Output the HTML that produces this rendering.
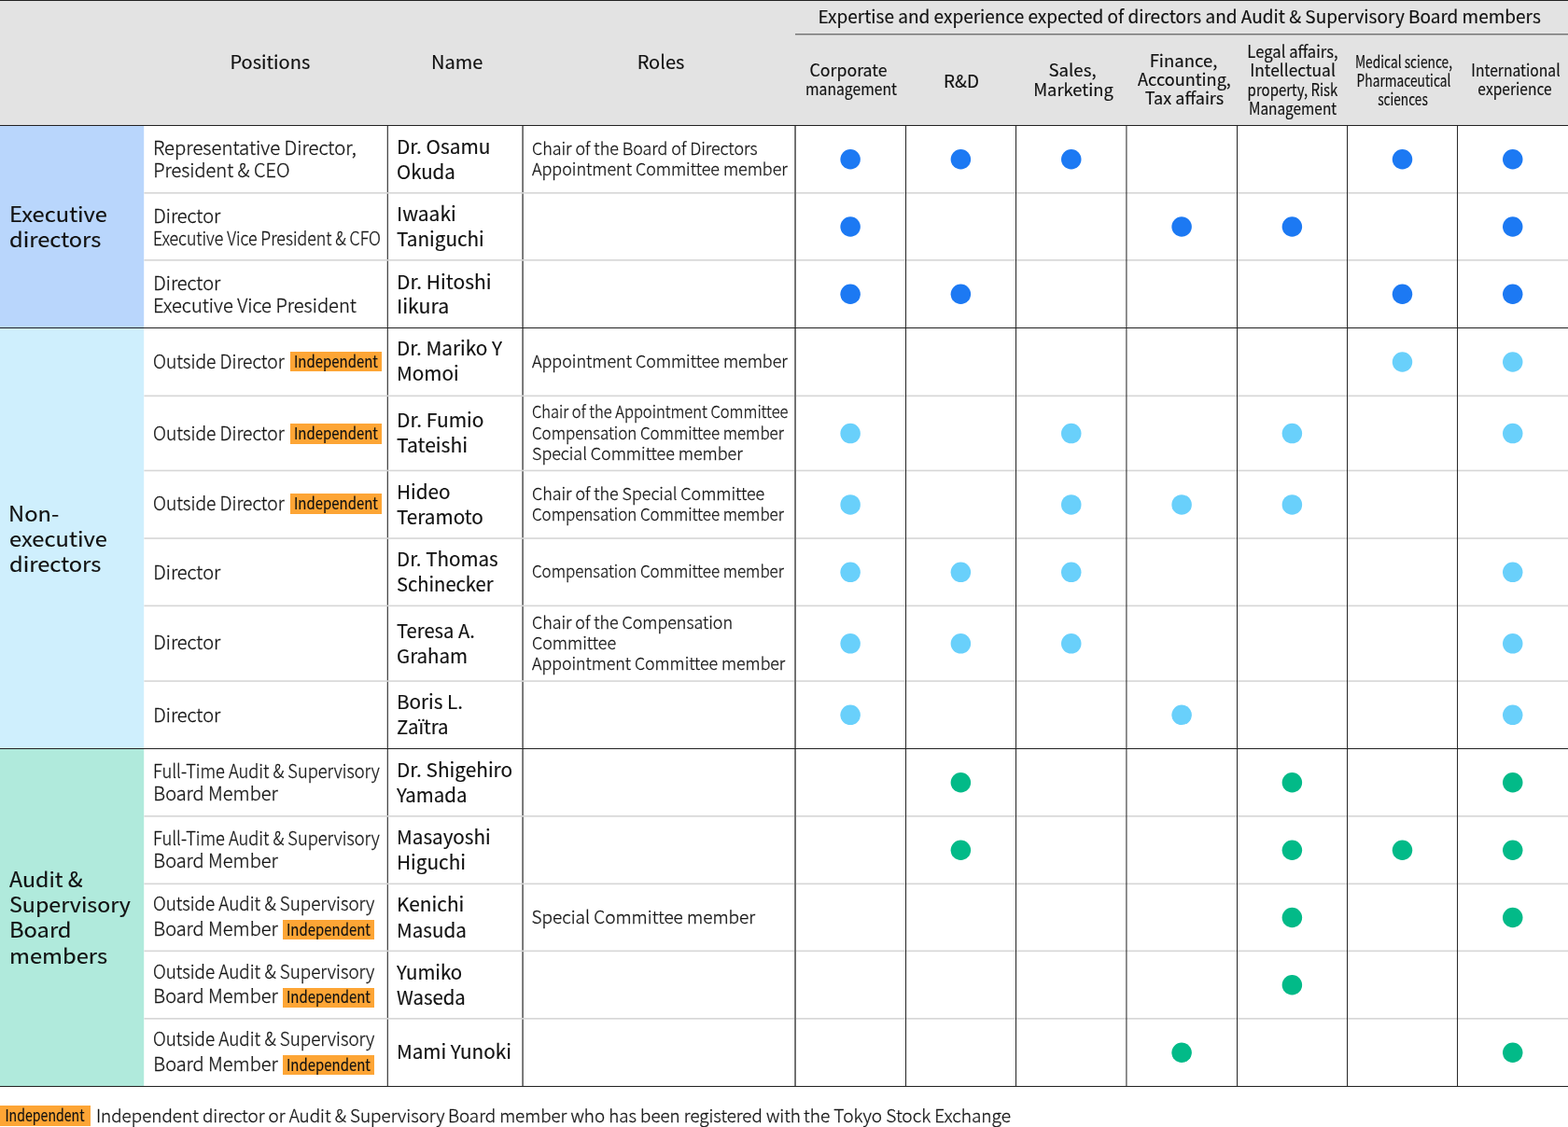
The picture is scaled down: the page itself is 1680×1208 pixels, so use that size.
<!DOCTYPE html>
<html lang="en"><head><meta charset="utf-8"><title>Skills matrix</title>
<style>
html,body{margin:0;padding:0;background:#fff}
body{width:1680px;height:1208px;position:relative;overflow:hidden;font-family:"Noto Sans CJK JP","Liberation Sans",sans-serif}
.t{position:absolute;white-space:nowrap;line-height:30px;height:30px;-webkit-text-stroke:0.3px currentColor}
.r{position:absolute}
.d{position:absolute;width:21.5px;height:21.5px;border-radius:50%}
</style></head><body>
<div class="r" style="left:0.00px;top:0.00px;width:1680.00px;height:134.50px;background:#e3e3e3;"></div>
<svg class="r" style="left:0;top:0" width="1680" height="1208" viewBox="0 0 1680 1208"><rect x="0.00" y="135.00" width="154.20" height="216.00" fill="#b9d6fc"/><rect x="0.00" y="352.00" width="154.20" height="450.00" fill="#cfeffd"/><rect x="0.00" y="803.00" width="154.20" height="361.00" fill="#b0eadc"/><rect x="414.70" y="135.00" width="1.30" height="1029.00" fill="#484848"/><rect x="559.20" y="135.00" width="1.80" height="1029.00" fill="#6c6c6c"/><rect x="154.40" y="206.05" width="1525.60" height="1.60" fill="#d6d6d6"/><rect x="154.40" y="278.05" width="1525.60" height="1.60" fill="#d6d6d6"/><rect x="154.40" y="423.55" width="1525.60" height="1.60" fill="#d6d6d6"/><rect x="154.40" y="503.65" width="1525.60" height="1.60" fill="#d6d6d6"/><rect x="154.40" y="576.25" width="1525.60" height="1.60" fill="#d6d6d6"/><rect x="154.40" y="648.55" width="1525.60" height="1.60" fill="#d6d6d6"/><rect x="154.40" y="729.25" width="1525.60" height="1.60" fill="#d6d6d6"/><rect x="154.40" y="874.05" width="1525.60" height="1.60" fill="#d6d6d6"/><rect x="154.40" y="946.55" width="1525.60" height="1.60" fill="#d6d6d6"/><rect x="154.40" y="1018.55" width="1525.60" height="1.60" fill="#d6d6d6"/><rect x="154.40" y="1091.05" width="1525.60" height="1.60" fill="#d6d6d6"/><rect x="851.10" y="135.00" width="1.90" height="1029.00" fill="#6c6c6c"/><rect x="970.00" y="135.00" width="1.05" height="1029.00" fill="#2a2a2a"/><rect x="1088.00" y="135.00" width="1.05" height="1029.00" fill="#2a2a2a"/><rect x="1206.40" y="135.00" width="1.05" height="1029.00" fill="#2a2a2a"/><rect x="1325.00" y="135.00" width="1.05" height="1029.00" fill="#2a2a2a"/><rect x="1443.00" y="135.00" width="1.05" height="1029.00" fill="#2a2a2a"/><rect x="1561.00" y="135.00" width="1.05" height="1029.00" fill="#2a2a2a"/><rect x="0.00" y="0.00" width="1680.00" height="1.00" fill="#222"/><rect x="0.00" y="134.00" width="1680.00" height="1.00" fill="#222"/><rect x="0.00" y="351.00" width="1680.00" height="1.00" fill="#222"/><rect x="0.00" y="802.00" width="1680.00" height="1.00" fill="#222"/><rect x="0.00" y="1164.00" width="1680.00" height="1.00" fill="#222"/><rect x="852.00" y="36.30" width="828.00" height="1.00" fill="#444"/><circle cx="911.12" cy="170.75" r="10.75" fill="#1c79f3"/><circle cx="1029.38" cy="170.75" r="10.75" fill="#1c79f3"/><circle cx="1147.75" cy="170.75" r="10.75" fill="#1c79f3"/><circle cx="1502.50" cy="170.75" r="10.75" fill="#1c79f3"/><circle cx="1620.75" cy="170.75" r="10.75" fill="#1c79f3"/><circle cx="911.12" cy="243.00" r="10.75" fill="#1c79f3"/><circle cx="1266.12" cy="243.00" r="10.75" fill="#1c79f3"/><circle cx="1384.38" cy="243.00" r="10.75" fill="#1c79f3"/><circle cx="1620.75" cy="243.00" r="10.75" fill="#1c79f3"/><circle cx="911.12" cy="315.25" r="10.75" fill="#1c79f3"/><circle cx="1029.38" cy="315.25" r="10.75" fill="#1c79f3"/><circle cx="1502.50" cy="315.25" r="10.75" fill="#1c79f3"/><circle cx="1620.75" cy="315.25" r="10.75" fill="#1c79f3"/><circle cx="1502.50" cy="388.00" r="10.75" fill="#69d0fb"/><circle cx="1620.75" cy="388.00" r="10.75" fill="#69d0fb"/><circle cx="911.12" cy="464.55" r="10.75" fill="#69d0fb"/><circle cx="1147.75" cy="464.55" r="10.75" fill="#69d0fb"/><circle cx="1384.38" cy="464.55" r="10.75" fill="#69d0fb"/><circle cx="1620.75" cy="464.55" r="10.75" fill="#69d0fb"/><circle cx="911.12" cy="540.90" r="10.75" fill="#69d0fb"/><circle cx="1147.75" cy="540.90" r="10.75" fill="#69d0fb"/><circle cx="1266.12" cy="540.90" r="10.75" fill="#69d0fb"/><circle cx="1384.38" cy="540.90" r="10.75" fill="#69d0fb"/><circle cx="911.12" cy="613.35" r="10.75" fill="#69d0fb"/><circle cx="1029.38" cy="613.35" r="10.75" fill="#69d0fb"/><circle cx="1147.75" cy="613.35" r="10.75" fill="#69d0fb"/><circle cx="1620.75" cy="613.35" r="10.75" fill="#69d0fb"/><circle cx="911.12" cy="689.85" r="10.75" fill="#69d0fb"/><circle cx="1029.38" cy="689.85" r="10.75" fill="#69d0fb"/><circle cx="1147.75" cy="689.85" r="10.75" fill="#69d0fb"/><circle cx="1620.75" cy="689.85" r="10.75" fill="#69d0fb"/><circle cx="911.12" cy="766.35" r="10.75" fill="#69d0fb"/><circle cx="1266.12" cy="766.35" r="10.75" fill="#69d0fb"/><circle cx="1620.75" cy="766.35" r="10.75" fill="#69d0fb"/><circle cx="1029.38" cy="838.75" r="10.75" fill="#02ba88"/><circle cx="1384.38" cy="838.75" r="10.75" fill="#02ba88"/><circle cx="1620.75" cy="838.75" r="10.75" fill="#02ba88"/><circle cx="1029.38" cy="911.25" r="10.75" fill="#02ba88"/><circle cx="1384.38" cy="911.25" r="10.75" fill="#02ba88"/><circle cx="1502.50" cy="911.25" r="10.75" fill="#02ba88"/><circle cx="1620.75" cy="911.25" r="10.75" fill="#02ba88"/><circle cx="1384.38" cy="983.50" r="10.75" fill="#02ba88"/><circle cx="1620.75" cy="983.50" r="10.75" fill="#02ba88"/><circle cx="1384.38" cy="1055.75" r="10.75" fill="#02ba88"/><circle cx="1266.12" cy="1128.25" r="10.75" fill="#02ba88"/><circle cx="1620.75" cy="1128.25" r="10.75" fill="#02ba88"/></svg>
<div class="t " style="top:2px;font-size:19px;font-weight:400;color:#111;-webkit-text-stroke-width:0.15px;left:876.50px;transform-origin:0 50%;">Expertise and experience expected of directors and Audit &amp; Supervisory Board members</div>
<div class="t " style="top:51px;font-size:20px;font-weight:400;color:#111;-webkit-text-stroke-width:0.15px;left:-10.60px;width:600px;text-align:center;transform-origin:50% 50%;">Positions</div>
<div class="t " style="top:51px;font-size:20px;font-weight:400;color:#111;-webkit-text-stroke-width:0.15px;left:189.60px;width:600px;text-align:center;transform-origin:50% 50%;">Name</div>
<div class="t " style="top:51px;font-size:20px;font-weight:400;color:#111;-webkit-text-stroke-width:0.15px;left:408.00px;width:600px;text-align:center;transform-origin:50% 50%;">Roles</div>
<div class="t " style="top:59px;font-size:18.3px;font-weight:400;color:#111;-webkit-text-stroke-width:0.15px;left:609.38px;width:600px;text-align:center;transform-origin:50% 50%;transform:scaleX(0.9688);">Corporate</div>
<div class="t " style="top:79px;font-size:18.3px;font-weight:400;color:#111;-webkit-text-stroke-width:0.15px;left:612.38px;width:600px;text-align:center;transform-origin:50% 50%;transform:scaleX(0.8607);">management</div>
<div class="t " style="top:71px;font-size:18.3px;font-weight:400;color:#111;-webkit-text-stroke-width:0.15px;left:730.38px;width:600px;text-align:center;transform-origin:50% 50%;transform:scaleX(1.0358);">R&amp;D</div>
<div class="t " style="top:59px;font-size:18.3px;font-weight:400;color:#111;-webkit-text-stroke-width:0.15px;left:849.38px;width:600px;text-align:center;transform-origin:50% 50%;transform:scaleX(1.0202);">Sales,</div>
<div class="t " style="top:80px;font-size:18.3px;font-weight:400;color:#111;-webkit-text-stroke-width:0.15px;left:850.12px;width:600px;text-align:center;transform-origin:50% 50%;transform:scaleX(1.0046);">Marketing</div>
<div class="t " style="top:49px;font-size:18.3px;font-weight:400;color:#111;-webkit-text-stroke-width:0.15px;left:968.00px;width:600px;text-align:center;transform-origin:50% 50%;transform:scaleX(1.0125);">Finance,</div>
<div class="t " style="top:69px;font-size:18.3px;font-weight:400;color:#111;-webkit-text-stroke-width:0.15px;left:968.62px;width:600px;text-align:center;transform-origin:50% 50%;transform:scaleX(0.9911);">Accounting,</div>
<div class="t " style="top:89px;font-size:18.3px;font-weight:400;color:#111;-webkit-text-stroke-width:0.15px;left:968.50px;width:600px;text-align:center;transform-origin:50% 50%;transform:scaleX(0.9895);">Tax affairs</div>
<div class="t " style="top:39px;font-size:18.3px;font-weight:400;color:#111;-webkit-text-stroke-width:0.15px;left:1084.75px;width:600px;text-align:center;transform-origin:50% 50%;transform:scaleX(0.9113);">Legal affairs,</div>
<div class="t " style="top:59px;font-size:18.3px;font-weight:400;color:#111;-webkit-text-stroke-width:0.15px;left:1084.50px;width:600px;text-align:center;transform-origin:50% 50%;transform:scaleX(0.9515);">Intellectual</div>
<div class="t " style="top:80px;font-size:18.3px;font-weight:400;color:#111;-webkit-text-stroke-width:0.15px;left:1084.50px;width:600px;text-align:center;transform-origin:50% 50%;transform:scaleX(0.8197);">property, Risk</div>
<div class="t " style="top:100px;font-size:18.3px;font-weight:400;color:#111;-webkit-text-stroke-width:0.15px;left:1084.50px;width:600px;text-align:center;transform-origin:50% 50%;transform:scaleX(0.8424);">Management</div>
<div class="t " style="top:50px;font-size:18.3px;font-weight:400;color:#111;-webkit-text-stroke-width:0.15px;left:1204.12px;width:600px;text-align:center;transform-origin:50% 50%;transform:scaleX(0.7525);">Medical science,</div>
<div class="t " style="top:70px;font-size:18.3px;font-weight:400;color:#111;-webkit-text-stroke-width:0.15px;left:1203.88px;width:600px;text-align:center;transform-origin:50% 50%;transform:scaleX(0.753);">Pharmaceutical</div>
<div class="t " style="top:90px;font-size:18.3px;font-weight:400;color:#111;-webkit-text-stroke-width:0.15px;left:1203.25px;width:600px;text-align:center;transform-origin:50% 50%;transform:scaleX(0.7484);">sciences</div>
<div class="t " style="top:59px;font-size:18.3px;font-weight:400;color:#111;-webkit-text-stroke-width:0.15px;left:1324.12px;width:600px;text-align:center;transform-origin:50% 50%;transform:scaleX(0.8572);">International</div>
<div class="t " style="top:79px;font-size:18.3px;font-weight:400;color:#111;-webkit-text-stroke-width:0.15px;left:1323.00px;width:600px;text-align:center;transform-origin:50% 50%;transform:scaleX(0.8525);">experience</div>
<div class="t " style="top:213px;font-size:22.5px;font-weight:400;color:#111;-webkit-text-stroke-width:0.15px;left:9.80px;transform-origin:0 50%;transform:scaleX(1.054);">Executive</div>
<div class="t " style="top:240px;font-size:22.5px;font-weight:400;color:#111;-webkit-text-stroke-width:0.15px;left:9.80px;transform-origin:0 50%;transform:scaleX(1.054);">directors</div>
<div class="t " style="top:534px;font-size:22.5px;font-weight:400;color:#111;-webkit-text-stroke-width:0.15px;left:9.30px;transform-origin:0 50%;transform:scaleX(1.054);">Non-</div>
<div class="t " style="top:561px;font-size:22.5px;font-weight:400;color:#111;-webkit-text-stroke-width:0.15px;left:9.80px;transform-origin:0 50%;transform:scaleX(1.054);">executive</div>
<div class="t " style="top:588px;font-size:22.5px;font-weight:400;color:#111;-webkit-text-stroke-width:0.15px;left:9.80px;transform-origin:0 50%;transform:scaleX(1.054);">directors</div>
<div class="t " style="top:926px;font-size:22.5px;font-weight:400;color:#111;-webkit-text-stroke-width:0.15px;left:9.80px;transform-origin:0 50%;transform:scaleX(1.031);">Audit &amp;</div>
<div class="t " style="top:953px;font-size:22.5px;font-weight:400;color:#111;-webkit-text-stroke-width:0.15px;left:9.80px;transform-origin:0 50%;transform:scaleX(1.031);">Supervisory</div>
<div class="t " style="top:980px;font-size:22.5px;font-weight:400;color:#111;-webkit-text-stroke-width:0.15px;left:9.80px;transform-origin:0 50%;transform:scaleX(1.054);">Board</div>
<div class="t " style="top:1008px;font-size:22.5px;font-weight:400;color:#111;-webkit-text-stroke-width:0.15px;left:9.80px;transform-origin:0 50%;transform:scaleX(1.054);">members</div>
<div class="t " style="top:143px;font-size:20px;font-weight:300;color:#151515;left:164.30px;transform-origin:0 50%;transform:scaleX(1.015);">Representative Director,</div>
<div class="t " style="top:167px;font-size:20px;font-weight:300;color:#151515;left:164.30px;transform-origin:0 50%;">President &amp; CEO</div>
<div class="t " style="top:216px;font-size:20px;font-weight:300;color:#151515;left:164.30px;transform-origin:0 50%;">Director</div>
<div class="t " style="top:240px;font-size:20px;font-weight:300;color:#151515;left:164.30px;transform-origin:0 50%;transform:scaleX(0.885);">Executive Vice President &amp; CFO</div>
<div class="t " style="top:288px;font-size:20px;font-weight:300;color:#151515;left:164.30px;transform-origin:0 50%;">Director</div>
<div class="t " style="top:312px;font-size:20px;font-weight:300;color:#151515;left:164.30px;transform-origin:0 50%;transform:scaleX(1.008);">Executive Vice President</div>
<div class="t " style="top:372px;font-size:20px;font-weight:300;color:#151515;left:164.30px;transform-origin:0 50%;transform:scaleX(0.96);">Outside Director</div>
<div class="r" style="left:310.85px;top:377.00px;width:98.20px;height:21.30px;background:#fda535;"></div>
<div class="t " style="top:372px;font-size:17.5px;font-weight:400;color:#111;-webkit-text-stroke-width:0.15px;left:59.95px;width:600px;text-align:center;transform-origin:50% 50%;transform:scaleX(0.854);">Independent</div>
<div class="t " style="top:449px;font-size:20px;font-weight:300;color:#151515;left:164.30px;transform-origin:0 50%;transform:scaleX(0.96);">Outside Director</div>
<div class="r" style="left:310.85px;top:454.25px;width:98.20px;height:21.30px;background:#fda535;"></div>
<div class="t " style="top:449px;font-size:17.5px;font-weight:400;color:#111;-webkit-text-stroke-width:0.15px;left:59.95px;width:600px;text-align:center;transform-origin:50% 50%;transform:scaleX(0.854);">Independent</div>
<div class="t " style="top:524px;font-size:20px;font-weight:300;color:#151515;left:164.30px;transform-origin:0 50%;transform:scaleX(0.96);">Outside Director</div>
<div class="r" style="left:310.85px;top:529.25px;width:98.20px;height:21.30px;background:#fda535;"></div>
<div class="t " style="top:524px;font-size:17.5px;font-weight:400;color:#111;-webkit-text-stroke-width:0.15px;left:59.95px;width:600px;text-align:center;transform-origin:50% 50%;transform:scaleX(0.854);">Independent</div>
<div class="t " style="top:598px;font-size:20px;font-weight:300;color:#151515;left:164.30px;transform-origin:0 50%;">Director</div>
<div class="t " style="top:673px;font-size:20px;font-weight:300;color:#151515;left:164.30px;transform-origin:0 50%;">Director</div>
<div class="t " style="top:751px;font-size:20px;font-weight:300;color:#151515;left:164.30px;transform-origin:0 50%;">Director</div>
<div class="t " style="top:811px;font-size:20px;font-weight:300;color:#151515;left:164.30px;transform-origin:0 50%;transform:scaleX(0.914);">Full-Time Audit &amp; Supervisory</div>
<div class="t " style="top:835px;font-size:20px;font-weight:300;color:#151515;left:164.30px;transform-origin:0 50%;">Board Member</div>
<div class="t " style="top:883px;font-size:20px;font-weight:300;color:#151515;left:164.30px;transform-origin:0 50%;transform:scaleX(0.914);">Full-Time Audit &amp; Supervisory</div>
<div class="t " style="top:907px;font-size:20px;font-weight:300;color:#151515;left:164.30px;transform-origin:0 50%;">Board Member</div>
<div class="t " style="top:953px;font-size:20px;font-weight:300;color:#151515;left:164.30px;transform-origin:0 50%;transform:scaleX(0.943);">Outside Audit &amp; Supervisory</div>
<div class="t " style="top:980px;font-size:20px;font-weight:300;color:#151515;left:164.30px;transform-origin:0 50%;">Board Member</div>
<div class="r" style="left:303.00px;top:985.75px;width:98.00px;height:21.00px;background:#fda535;"></div>
<div class="t " style="top:981px;font-size:17.5px;font-weight:400;color:#111;-webkit-text-stroke-width:0.15px;left:52.00px;width:600px;text-align:center;transform-origin:50% 50%;transform:scaleX(0.854);">Independent</div>
<div class="t " style="top:1026px;font-size:20px;font-weight:300;color:#151515;left:164.30px;transform-origin:0 50%;transform:scaleX(0.943);">Outside Audit &amp; Supervisory</div>
<div class="t " style="top:1052px;font-size:20px;font-weight:300;color:#151515;left:164.30px;transform-origin:0 50%;">Board Member</div>
<div class="r" style="left:303.00px;top:1058.75px;width:98.00px;height:21.00px;background:#fda535;"></div>
<div class="t " style="top:1053px;font-size:17.5px;font-weight:400;color:#111;-webkit-text-stroke-width:0.15px;left:52.00px;width:600px;text-align:center;transform-origin:50% 50%;transform:scaleX(0.854);">Independent</div>
<div class="t " style="top:1098px;font-size:20px;font-weight:300;color:#151515;left:164.30px;transform-origin:0 50%;transform:scaleX(0.943);">Outside Audit &amp; Supervisory</div>
<div class="t " style="top:1125px;font-size:20px;font-weight:300;color:#151515;left:164.30px;transform-origin:0 50%;">Board Member</div>
<div class="r" style="left:303.00px;top:1131.25px;width:98.00px;height:21.00px;background:#fda535;"></div>
<div class="t " style="top:1126px;font-size:17.5px;font-weight:400;color:#111;-webkit-text-stroke-width:0.15px;left:52.00px;width:600px;text-align:center;transform-origin:50% 50%;transform:scaleX(0.854);">Independent</div>
<div class="t " style="top:141px;font-size:20.7px;font-weight:400;color:#111;-webkit-text-stroke-width:0.15px;left:424.90px;transform-origin:0 50%;transform:scaleX(1.008);">Dr. Osamu</div>
<div class="t " style="top:168px;font-size:20.7px;font-weight:400;color:#111;-webkit-text-stroke-width:0.15px;left:424.90px;transform-origin:0 50%;transform:scaleX(0.989);">Okuda</div>
<div class="t " style="top:213px;font-size:20.7px;font-weight:400;color:#111;-webkit-text-stroke-width:0.15px;left:424.90px;transform-origin:0 50%;transform:scaleX(1.015);">Iwaaki</div>
<div class="t " style="top:240px;font-size:20.7px;font-weight:400;color:#111;-webkit-text-stroke-width:0.15px;left:424.90px;transform-origin:0 50%;transform:scaleX(1.001);">Taniguchi</div>
<div class="t " style="top:286px;font-size:20.7px;font-weight:400;color:#111;-webkit-text-stroke-width:0.15px;left:424.90px;transform-origin:0 50%;transform:scaleX(1.014);">Dr. Hitoshi</div>
<div class="t " style="top:312px;font-size:20.7px;font-weight:400;color:#111;-webkit-text-stroke-width:0.15px;left:424.90px;transform-origin:0 50%;transform:scaleX(1.029);">Iikura</div>
<div class="t " style="top:357px;font-size:20.7px;font-weight:400;color:#111;-webkit-text-stroke-width:0.15px;left:424.90px;transform-origin:0 50%;transform:scaleX(1.003);">Dr. Mariko Y</div>
<div class="t " style="top:384px;font-size:20.7px;font-weight:400;color:#111;-webkit-text-stroke-width:0.15px;left:424.90px;transform-origin:0 50%;transform:scaleX(1.001);">Momoi</div>
<div class="t " style="top:434px;font-size:20.7px;font-weight:400;color:#111;-webkit-text-stroke-width:0.15px;left:424.90px;transform-origin:0 50%;transform:scaleX(1.013);">Dr. Fumio</div>
<div class="t " style="top:461px;font-size:20.7px;font-weight:400;color:#111;-webkit-text-stroke-width:0.15px;left:424.90px;transform-origin:0 50%;transform:scaleX(1.02);">Tateishi</div>
<div class="t " style="top:511px;font-size:20.7px;font-weight:400;color:#111;-webkit-text-stroke-width:0.15px;left:424.90px;transform-origin:0 50%;transform:scaleX(0.999);">Hideo</div>
<div class="t " style="top:538px;font-size:20.7px;font-weight:400;color:#111;-webkit-text-stroke-width:0.15px;left:424.90px;transform-origin:0 50%;transform:scaleX(1.001);">Teramoto</div>
<div class="t " style="top:583px;font-size:20.7px;font-weight:400;color:#111;-webkit-text-stroke-width:0.15px;left:424.90px;transform-origin:0 50%;transform:scaleX(0.994);">Dr. Thomas</div>
<div class="t " style="top:610px;font-size:20.7px;font-weight:400;color:#111;-webkit-text-stroke-width:0.15px;left:424.90px;transform-origin:0 50%;transform:scaleX(0.975);">Schinecker</div>
<div class="t " style="top:660px;font-size:20.7px;font-weight:400;color:#111;-webkit-text-stroke-width:0.15px;left:424.90px;transform-origin:0 50%;transform:scaleX(0.976);">Teresa A.</div>
<div class="t " style="top:687px;font-size:20.7px;font-weight:400;color:#111;-webkit-text-stroke-width:0.15px;left:424.90px;transform-origin:0 50%;transform:scaleX(0.992);">Graham</div>
<div class="t " style="top:736px;font-size:20.7px;font-weight:400;color:#111;-webkit-text-stroke-width:0.15px;left:424.90px;transform-origin:0 50%;">Boris L.</div>
<div class="t " style="top:763px;font-size:20.7px;font-weight:400;color:#111;-webkit-text-stroke-width:0.15px;left:424.90px;transform-origin:0 50%;transform:scaleX(0.985);">Zaïtra</div>
<div class="t " style="top:809px;font-size:20.7px;font-weight:400;color:#111;-webkit-text-stroke-width:0.15px;left:424.90px;transform-origin:0 50%;transform:scaleX(1.006);">Dr. Shigehiro</div>
<div class="t " style="top:836px;font-size:20.7px;font-weight:400;color:#111;-webkit-text-stroke-width:0.15px;left:424.90px;transform-origin:0 50%;transform:scaleX(0.988);">Yamada</div>
<div class="t " style="top:881px;font-size:20.7px;font-weight:400;color:#111;-webkit-text-stroke-width:0.15px;left:424.90px;transform-origin:0 50%;transform:scaleX(0.998);">Masayoshi</div>
<div class="t " style="top:908px;font-size:20.7px;font-weight:400;color:#111;-webkit-text-stroke-width:0.15px;left:424.90px;transform-origin:0 50%;transform:scaleX(1.003);">Higuchi</div>
<div class="t " style="top:953px;font-size:20.7px;font-weight:400;color:#111;-webkit-text-stroke-width:0.15px;left:424.90px;transform-origin:0 50%;transform:scaleX(1.007);">Kenichi</div>
<div class="t " style="top:981px;font-size:20.7px;font-weight:400;color:#111;-webkit-text-stroke-width:0.15px;left:424.90px;transform-origin:0 50%;transform:scaleX(0.995);">Masuda</div>
<div class="t " style="top:1026px;font-size:20.7px;font-weight:400;color:#111;-webkit-text-stroke-width:0.15px;left:424.90px;transform-origin:0 50%;transform:scaleX(0.985);">Yumiko</div>
<div class="t " style="top:1053px;font-size:20.7px;font-weight:400;color:#111;-webkit-text-stroke-width:0.15px;left:424.90px;transform-origin:0 50%;transform:scaleX(0.982);">Waseda</div>
<div class="t " style="top:1111px;font-size:20.7px;font-weight:400;color:#111;-webkit-text-stroke-width:0.15px;left:424.90px;transform-origin:0 50%;">Mami Yunoki</div>
<div class="t " style="top:143px;font-size:18px;font-weight:300;color:#151515;left:569.50px;transform-origin:0 50%;transform:scaleX(0.993);">Chair of the Board of Directors</div>
<div class="t " style="top:165px;font-size:18px;font-weight:300;color:#151515;left:569.50px;transform-origin:0 50%;transform:scaleX(0.994);">Appointment Committee member</div>
<div class="t " style="top:371px;font-size:18px;font-weight:300;color:#151515;left:569.50px;transform-origin:0 50%;transform:scaleX(0.994);">Appointment Committee member</div>
<div class="t " style="top:425px;font-size:18px;font-weight:300;color:#151515;left:569.50px;transform-origin:0 50%;transform:scaleX(0.916);">Chair of the Appointment Committee</div>
<div class="t " style="top:448px;font-size:18px;font-weight:300;color:#151515;left:569.50px;transform-origin:0 50%;transform:scaleX(0.939);">Compensation Committee member</div>
<div class="t " style="top:470px;font-size:18px;font-weight:300;color:#151515;left:569.50px;transform-origin:0 50%;transform:scaleX(0.994);">Special Committee member</div>
<div class="t " style="top:513px;font-size:18px;font-weight:300;color:#151515;left:569.50px;transform-origin:0 50%;transform:scaleX(0.992);">Chair of the Special Committee</div>
<div class="t " style="top:535px;font-size:18px;font-weight:300;color:#151515;left:569.50px;transform-origin:0 50%;transform:scaleX(0.939);">Compensation Committee member</div>
<div class="t " style="top:596px;font-size:18px;font-weight:300;color:#151515;left:569.50px;transform-origin:0 50%;transform:scaleX(0.939);">Compensation Committee member</div>
<div class="t " style="top:651px;font-size:18px;font-weight:300;color:#151515;left:569.50px;transform-origin:0 50%;transform:scaleX(0.991);">Chair of the Compensation</div>
<div class="t " style="top:673px;font-size:18px;font-weight:300;color:#151515;left:569.50px;transform-origin:0 50%;transform:scaleX(0.994);">Committee</div>
<div class="t " style="top:695px;font-size:18px;font-weight:300;color:#151515;left:569.50px;transform-origin:0 50%;transform:scaleX(0.985);">Appointment Committee member</div>
<div class="t " style="top:967px;font-size:19px;font-weight:300;color:#151515;left:569.50px;transform-origin:0 50%;">Special Committee member</div>
<div class="r" style="left:0.00px;top:1185.10px;width:96.60px;height:22.20px;background:#fda535;"></div>
<div class="t " style="top:1180px;font-size:17.5px;font-weight:400;color:#111;-webkit-text-stroke-width:0.15px;left:-251.55px;width:600px;text-align:center;transform-origin:50% 50%;transform:scaleX(0.807);">Independent</div>
<div class="t " style="top:1180px;font-size:18.85px;font-weight:300;color:#151515;left:102.95px;transform-origin:0 50%;">Independent director or Audit &amp; Supervisory</div>
<div class="t " style="top:1180px;font-size:18.85px;font-weight:300;color:#151515;left:479.50px;transform-origin:0 50%;transform:scaleX(0.9957);">Board member who has been registered with</div>
<div class="t " style="top:1180px;font-size:18.85px;font-weight:300;color:#151515;left:861.46px;transform-origin:0 50%;transform:scaleX(1.011);">the Tokyo Stock Exchange</div>
</body></html>
